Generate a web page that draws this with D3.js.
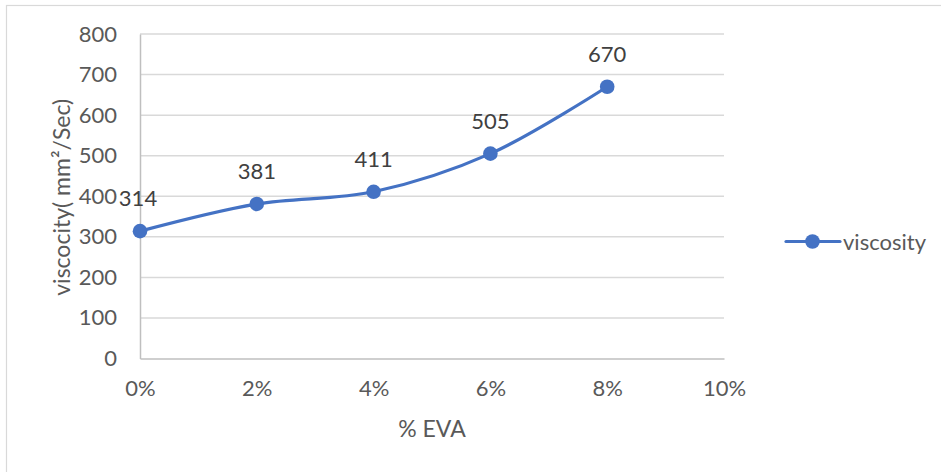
<!DOCTYPE html>
<html>
<head>
<meta charset="utf-8">
<script src="https://cdn.jsdelivr.net/npm/d3@7"></script>
<style>
  html, body { margin: 0; padding: 0; background: #fff; }
  svg { display: block; }
  text { font-family: Lato, "Open Sans", "Liberation Sans", sans-serif; fill: #595959; }
</style>
</head>
<body>
<svg id="chart" width="941" height="472"></svg>
<script>
// EVA content (%) and measured viscosity
const evaPercent = [0, 2, 4, 6, 8];
const viscosity = [314, 381, 411, 505, 670];
const xTicks = [0, 2, 4, 6, 8, 10];
const yTicks = [0, 100, 200, 300, 400, 500, 600, 700, 800];
const seriesName = "viscosity";

(function () {
  const svg = d3.select("#chart");
  const W = 941, H = 472;
  const plotLeft = 140, plotRight = 724, plotTop = 34, plotBottom = 358.5;
  const blue = "#4472c4";
  const tickSize = "22px";

  // chart area border (only top/left edges fall inside the view)
  svg.append("rect")
    .attr("x", 6.5).attr("y", 5.5)
    .attr("width", W).attr("height", H)
    .attr("fill", "#fff").attr("stroke", "#d9d9d9").attr("stroke-width", 1.2);

  const x = d3.scaleLinear().domain([0, 10]).range([plotLeft, plotRight]);
  const y = d3.scaleLinear().domain([0, 800]).range([plotBottom, plotTop]);

  // horizontal gridlines
  svg.append("g").selectAll("line")
    .data(yTicks.filter(d => d > 0))
    .join("line")
    .attr("x1", plotLeft).attr("x2", plotRight)
    .attr("y1", d => y(d)).attr("y2", d => y(d))
    .attr("stroke", "#d9d9d9").attr("stroke-width", 1.5);

  // y axis
  const yAxis = svg.append("g")
    .attr("transform", `translate(${plotLeft},0)`)
    .call(d3.axisLeft(y).tickValues(yTicks).tickSize(0).tickPadding(23));
  yAxis.select(".domain").attr("stroke", "#bfbfbf").attr("stroke-width", 1.5);
  yAxis.selectAll("text").style("font-size", tickSize).style("fill", "#595959");

  // x axis
  const xAxis = svg.append("g")
    .attr("transform", `translate(0,${plotBottom})`)
    .call(d3.axisBottom(x).tickValues(xTicks).tickSize(0).tickPadding(22)
      .tickFormat(d => d + "%"));
  xAxis.select(".domain").attr("stroke", "#bfbfbf").attr("stroke-width", 1.5);
  xAxis.selectAll("text").style("font-size", tickSize).style("fill", "#595959");
  yAxis.attr("font-family", null);
  xAxis.attr("font-family", null);

  // axis titles
  svg.append("text")
    .attr("transform", `translate(70,${(plotTop + plotBottom) / 2 + 1}) rotate(-90)`)
    .attr("text-anchor", "middle")
    .style("font-size", "23px")
    .text("viscocity( mm²/Sec)");

  svg.append("text")
    .attr("x", 432)
    .attr("y", 437)
    .attr("text-anchor", "middle")
    .style("font-size", "23px")
    .text("% EVA");

  const pts = evaPercent.map((e, i) => ({ e, v: viscosity[i] }));

  // smoothed series line
  const line = d3.line()
    .x(d => x(d.e)).y(d => y(d.v))
    .curve(d3.curveCatmullRom.alpha(0.5));
  svg.append("path")
    .datum(pts)
    .attr("d", line)
    .attr("fill", "none")
    .attr("stroke", blue)
    .attr("stroke-width", 3.2)
    .attr("stroke-linecap", "round");

  // markers
  svg.append("g").selectAll("circle")
    .data(pts)
    .join("circle")
    .attr("cx", d => x(d.e)).attr("cy", d => y(d.v))
    .attr("r", 7.3)
    .attr("fill", blue);

  // data labels
  svg.append("g").selectAll("text")
    .data(pts)
    .join("text")
    .attr("x", d => x(d.e) - (d.e === 0 ? 2 : 0))
    .attr("y", d => y(d.v) - 25)
    .attr("text-anchor", "middle")
    .style("font-size", tickSize)
    .style("fill", "#404040")
    .text(d => d.v);

  // legend
  const lg = svg.append("g").attr("transform", "translate(786,241.5)");
  lg.append("line").attr("x1", 0).attr("x2", 54).attr("y1", 0).attr("y2", 0)
    .attr("stroke", blue).attr("stroke-width", 3.2).attr("stroke-linecap", "round");
  lg.append("circle").attr("cx", 26.5).attr("cy", 0).attr("r", 7.3).attr("fill", blue);
  lg.append("text").attr("x", 57).attr("y", 8)
    .style("font-size", tickSize).text(seriesName);
})();
</script>
</body>
</html>
